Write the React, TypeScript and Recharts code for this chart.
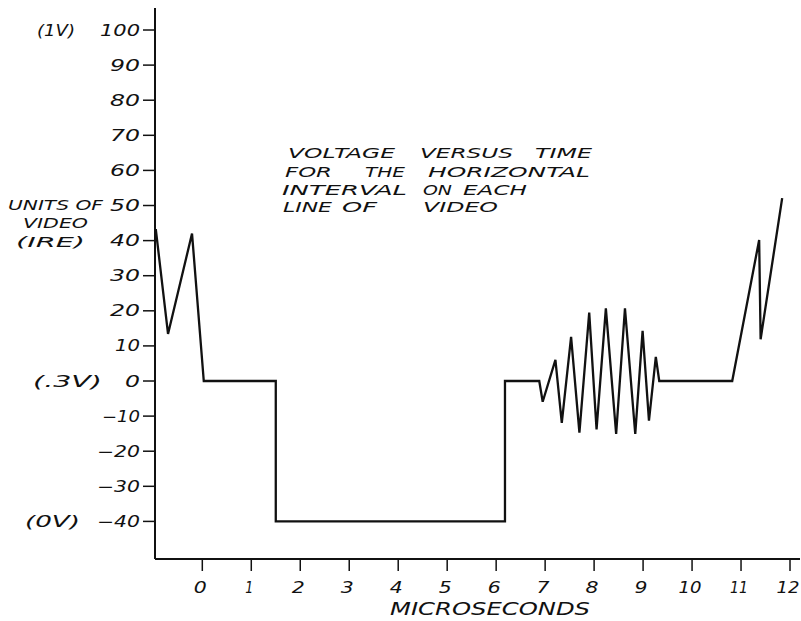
import React from "react";
import { LineChart, Line, XAxis, YAxis } from "recharts";

// ---- data ----
const times: number[] = [
  -0.95, -0.7, -0.21, 0.03, 1.5, 1.5, 6.18, 6.18, 6.88, 6.95, 7.21, 7.34, 7.53,
  7.7, 7.9, 8.05, 8.24, 8.45, 8.63, 8.84, 8.99, 9.12, 9.26, 9.33, 10.82, 11.37,
  11.4, 11.84,
];
const ireValues: number[] = [
  43.3, 13.4, 42, 0, 0, -40, -40, 0, 0, -5.9, 6.0, -11.9, 12.6, -14.7, 19.5,
  -13.8, 20.7, -15.1, 20.7, -15.1, 14.3, -11.3, 6.9, 0, 0, 40.2, 11.9, 52.1,
];

const xTicks: number[] = [0, 1, 2, 3, 4, 5, 6, 7, 8, 9, 10, 11, 12];
const xTickLabels: string[] = ["0", "1", "2", "3", "4", "5", "6", "7", "8", "9", "10", "11", "12"];

const yTicks: number[] = [-40, -30, -20, -10, 0, 10, 20, 30, 40, 50, 60, 70, 80, 90, 100];
const yTickLabels: string[] = [
  "−40", "−30", "−20", "−10", "0", "10", "20", "30", "40", "50", "60", "70", "80", "90", "100",
];
const voltLabels: { [k: number]: string } = { 100: "(1V)", 0: "(.3V)", [-40]: "(0V)" };

const titleLines: string[][] = [
  ["VOLTAGE", "VERSUS", "TIME"],
  ["FOR", "THE", "HORIZONTAL"],
  ["INTERVAL", "ON", "EACH"],
  ["LINE", "OF", "VIDEO"],
];
const yAxisTitle: string[] = ["UNITS OF", "VIDEO", "(IRE)"];
const xAxisTitle = "MICROSECONDS";

const chartData = times.map((t, i) => ({ t, v: ireValues[i] }));

// ---- layout / style ----
const INK = "#111";
const FONT = "'DejaVu Sans', 'Liberation Sans', sans-serif";
const W = 793;
const H = 611;

const glyphWidth = (s: string) =>
  s.split("").reduce((acc, c) => acc + (c === "1" ? 10 : c === "−" ? 13 : 15), 0);

// prefix (start x offset relative to tick text anchor, textLength)
const voltLayout: { [k: number]: [number, number] } = {
  100: [103, 38],
  0: [107, 69],
  [-40]: [115, 55],
};

const YTick = (props: any) => {
  const { x, y, payload } = props;
  const v = payload.value as number;
  const label = yTickLabels[yTicks.indexOf(v)] ?? String(v);
  const w = glyphWidth(label);
  const pre = voltLabels[v];
  const lay = voltLayout[v];
  return (
    <g>
      <text
        x={x - w}
        y={y + 5.5}
        textLength={w}
        lengthAdjust="spacingAndGlyphs"
        fontFamily={FONT}
        fontStyle="italic"
        fontSize={15}
        fill={INK}
      >
        {label}
      </text>
      {pre && lay ? (
        <text
          x={x - lay[0]}
          y={y + 5.5}
          textLength={lay[1]}
          lengthAdjust="spacingAndGlyphs"
          fontFamily={FONT}
          fontStyle="italic"
          fontSize={15}
          fill={INK}
        >
          {pre}
        </text>
      ) : null}
    </g>
  );
};

const XTick = (props: any) => {
  const { x, y, payload } = props;
  const v = payload.value as number;
  const label = xTickLabels[xTicks.indexOf(v)] ?? String(v);
  const w = glyphWidth(label) - 2;
  return (
    <text
      x={x - 2 - w / 2}
      y={y + 11}
      textLength={w}
      lengthAdjust="spacingAndGlyphs"
      fontFamily={FONT}
      fontStyle="italic"
      fontSize={15}
      fill={INK}
    >
      {label}
    </text>
  );
};

// word boxes: [x, textLength] per word, baselines per line
const titleWordBoxes: [number, number][][] = [
  [[280, 107], [412, 93], [527, 57]],
  [[277, 47], [357, 40], [420, 162]],
  [[274, 125], [415, 29], [455, 64]],
  [[275, 49], [334, 35], [415, 75]],
];
const titleBaselines = [150, 168.5, 186.5, 204];
const yTitleBoxes: [number, number, number][] = [
  [0, 95, 202],
  [15, 65, 220],
  [8, 69, 239],
];

export default function App() {
  return (
    <div
      style={{
        position: "relative",
        width: W,
        height: H,
        background: "#fff",
      }}
    >
      <style>{`body { margin: 8px 0 0 8px; } #root { width: ${W}px; } svg { overflow: visible; } .recharts-wrapper { overflow: visible; }`}</style>
      <LineChart
        width={W}
        height={H}
        data={chartData}
        margin={{ top: 0, right: 1, bottom: 0, left: 0 }}
      >
        <XAxis
          type="number"
          dataKey="t"
          domain={[-0.966, 12.204]}
          allowDataOverflow
          ticks={xTicks}
          interval={0}
          height={60}
          tickSize={12}
          tickMargin={11}
          axisLine={{ stroke: INK, strokeWidth: 2 }}
          tickLine={{ stroke: INK, strokeWidth: 1.5 }}
          tick={<XTick />}
        />
        <YAxis
          type="number"
          dataKey="v"
          domain={[-50.71, 106.27]}
          allowDataOverflow
          ticks={yTicks}
          interval={0}
          width={147}
          tickSize={12}
          tickMargin={3}
          axisLine={{ stroke: INK, strokeWidth: 2 }}
          tickLine={{ stroke: INK, strokeWidth: 1.5 }}
          tick={<YTick />}
        />
        <Line
          type="linear"
          dataKey="v"
          stroke={INK}
          strokeWidth={2.3}
          strokeLinejoin="miter"
          dot={false}
          activeDot={false}
          isAnimationActive={false}
        />
      </LineChart>
      <svg
        width={W}
        height={H}
        style={{ position: "absolute", left: 0, top: 0, pointerEvents: "none", overflow: "visible" }}
      >
        {titleLines.map((line, li) =>
          line.map((word, wi) => (
            <text
              key={`t${li}-${wi}`}
              x={titleWordBoxes[li][wi][0]}
              y={titleBaselines[li]}
              textLength={titleWordBoxes[li][wi][1]}
              lengthAdjust="spacingAndGlyphs"
              fontFamily={FONT}
              fontStyle="italic"
              fontSize={14.5}
              fill={INK}
            >
              {word}
            </text>
          ))
        )}
        {yAxisTitle.map((s, i) => (
          <text
            key={`y${i}`}
            x={yTitleBoxes[i][0]}
            y={yTitleBoxes[i][2]}
            textLength={yTitleBoxes[i][1]}
            lengthAdjust="spacingAndGlyphs"
            fontFamily={FONT}
            fontStyle="italic"
            fontSize={14.5}
            fill={INK}
          >
            {s}
          </text>
        ))}
        <text
          x={382}
          y={607}
          textLength={200}
          lengthAdjust="spacingAndGlyphs"
          fontFamily={FONT}
          fontStyle="italic"
          fontSize={17}
          fill={INK}
        >
          {xAxisTitle}
        </text>
      </svg>
    </div>
  );
}
